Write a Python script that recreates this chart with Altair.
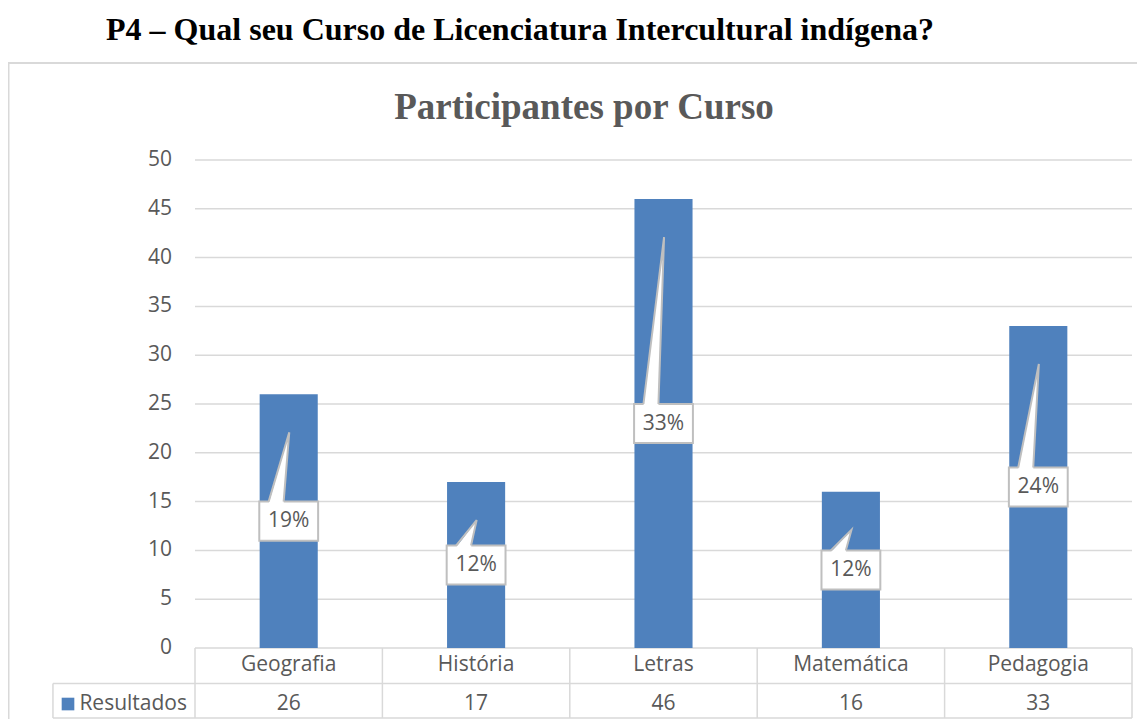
import altair as alt
import pandas as pd

# ---- data -------------------------------------------------------------
cursos = ["Geografia", "História", "Letras", "Matemática", "Pedagogia"]
resultados = [26, 17, 46, 16, 33]
y_ticks = [0, 5, 10, 15, 20, 25, 30, 35, 40, 45, 50]
serie = "Resultados"
titulo_pagina = "P4 – Qual seu Curso de Licenciatura Intercultural indígena?"
titulo_grafico = "Participantes por Curso"

# ---- style ------------------------------------------------------------
BLUE = "#4F81BD"
GRID = "#D9D9D9"
TEXT = "#595959"
BOXLINE = "#BFBFBF"
FONT = "Open Sans"
FS = 21
SERIF = "Liberation Serif"
W, H = 1129, 711

n = len(cursos)
total = sum(resultados)

xs = alt.Scale(domain=[-0.5, n - 0.5], range=[187, 1124], nice=False, zero=False)
ys = alt.Scale(domain=[0, 50], range=[640, 152], nice=False, zero=False)

ROW1 = -3.64       # bottom of category row (y units)
ROW2 = -7.17       # bottom of value row
BAR_HALF = 0.155   # half bar width (x units)
BOX_HALF = 0.157
BOX_H = 2.0
LEFT_CELL = -1.258

df = pd.DataFrame({"curso": cursos, "valor": resultados, "i": list(range(n))})
df["pct"] = [f"{round(v / total * 100)}%" for v in resultados]
df["xa"] = df["i"] - BAR_HALF
df["xb"] = df["i"] + BAR_HALF
df["zero"] = 0
df["mid"] = df["valor"] / 2
df["bxa"] = df["i"] - BOX_HALF
df["bxb"] = df["i"] + BOX_HALF
df["bya"] = df["mid"] - BOX_H
df["byb"] = df["mid"] + BOX_H
df["row1"] = -1.74
df["row2"] = -5.74

X = lambda f: alt.X(f, scale=xs, axis=None)
Y = lambda f: alt.Y(f, scale=ys, axis=None)

# border of the chart area
border_top = alt.Chart(alt.Data(values=[{}])).mark_rule(color=GRID, strokeWidth=2).encode(
    x=alt.value(0), x2=alt.value(W), y=alt.value(55))
border_left = alt.Chart(alt.Data(values=[{}])).mark_rule(color=GRID, strokeWidth=2).encode(
    x=alt.value(0.5), y=alt.value(55), y2=alt.value(H))

# grid lines
grid_df = pd.DataFrame({"t": y_ticks[1:]})
grid_df["a"] = -0.5
grid_df["b"] = n - 0.5
grid = alt.Chart(grid_df).mark_rule(color=GRID, strokeWidth=1.5).encode(
    x=X("a:Q"), x2="b:Q", y=Y("t:Q"))

# data table lines
segs = [
    (-0.5, n - 0.5, 0, 0),
    (LEFT_CELL, n - 0.5, ROW1, ROW1),
    (LEFT_CELL, n - 0.5, ROW2, ROW2),
    (LEFT_CELL, LEFT_CELL, ROW1, ROW2),
]
for k in range(n + 1):
    segs.append((k - 0.5, k - 0.5, 0, ROW2))
seg_df = pd.DataFrame(segs, columns=["xa", "xb", "ya", "yb"])
table_lines = alt.Chart(seg_df).mark_rule(color=GRID, strokeWidth=1.5).encode(
    x=X("xa:Q"), x2="xb:Q", y=Y("ya:Q"), y2="yb:Q")

# bars
bars = alt.Chart(df).mark_bar(color=BLUE).encode(
    x=X("xa:Q"), x2="xb:Q", y=Y("valor:Q"), y2="zero:Q")

# callout boxes
boxes = alt.Chart(df).mark_rect(fill="white", stroke=BOXLINE, strokeWidth=2).encode(
    x=X("bxa:Q"), x2="bxb:Q", y=Y("bya:Q"), y2="byb:Q")

# callout wedges
wf = []
wl = []
for i, v in enumerate(resultados):
    base = v / 2 + BOX_H
    tip = v - 3.9
    wf.append({"c": i, "y": base - 0.2, "l": i - 0.107, "r": i - 0.027})
    wf.append({"c": i, "y": tip, "l": i + 0.003, "r": i + 0.003})
    wl.append({"c": i, "o": 0, "x": i - 0.107, "y": base})
    wl.append({"c": i, "o": 1, "x": i + 0.003, "y": tip})
    wl.append({"c": i, "o": 2, "x": i - 0.027, "y": base})
wedge_fill = alt.Chart(pd.DataFrame(wf)).mark_area(
    orient="horizontal", color="white", opacity=1).encode(
    y=Y("y:Q"), x=X("l:Q"), x2="r:Q", detail="c:N")
wedge_line = alt.Chart(pd.DataFrame(wl)).mark_line(
    color=BOXLINE, strokeWidth=2).encode(
    x=X("x:Q"), y=Y("y:Q"), detail="c:N", order="o:Q")

pct_text = alt.Chart(df).mark_text(
    font=FONT, fontSize=FS, color=TEXT, baseline="middle").encode(
    x=X("i:Q"), y=Y("mid:Q"), text="pct:N")

# y tick labels
tick_df = pd.DataFrame({"t": y_ticks, "lbl": [str(t) for t in y_ticks]})
tick_df["a"] = -0.5
ytext = alt.Chart(tick_df).mark_text(
    font=FONT, fontSize=FS, color=TEXT, align="right", baseline="middle", dx=-23).encode(
    x=X("a:Q"), y=Y("t:Q"), text="lbl:N")

# table texts
cat_text = alt.Chart(df).mark_text(
    font=FONT, fontSize=FS, color=TEXT, baseline="middle").encode(
    x=X("i:Q"), y=Y("row1:Q"), text="curso:N")
val_text = alt.Chart(df).mark_text(
    font=FONT, fontSize=FS, color=TEXT, baseline="middle").encode(
    x=X("i:Q"), y=Y("row2:Q"), text="valor:Q")

leg_df = pd.DataFrame({"a": [-0.5], "r": [-5.74], "s": [serie]})
leg_text = alt.Chart(leg_df).mark_text(
    font=FONT, fontSize=FS, color=TEXT, align="right", baseline="middle", dx=-8).encode(
    x=X("a:Q"), y=Y("r:Q"), text="s:N")
leg_sq = alt.Chart(leg_df).mark_square(size=160, color=BLUE, opacity=1, filled=True).encode(
    x=alt.value(60), y=Y("r:Q"))

header = alt.Chart(alt.Data(values=[{}])).mark_text(
    text=titulo_pagina, font=SERIF, fontSize=32, fontWeight="bold", color="black",
    align="center", baseline="alphabetic").encode(x=alt.value(512), y=alt.value(32))
ctitle = alt.Chart(alt.Data(values=[{}])).mark_text(
    text=titulo_grafico, font=SERIF, fontSize=37, fontWeight="bold", color=TEXT,
    align="center", baseline="alphabetic").encode(x=alt.value(576), y=alt.value(111))

chart = alt.layer(
    border_top, border_left, grid, table_lines, bars, boxes, wedge_fill, wedge_line,
    pct_text, ytext, cat_text, val_text, leg_text, leg_sq, header, ctitle
).properties(
    width=W, height=H,
    autosize=alt.AutoSizeParams(type="none"),
    padding=0,
).configure_view(stroke=None)

chart.save("out.html", embed_options={"renderer": "svg", "actions": False})
